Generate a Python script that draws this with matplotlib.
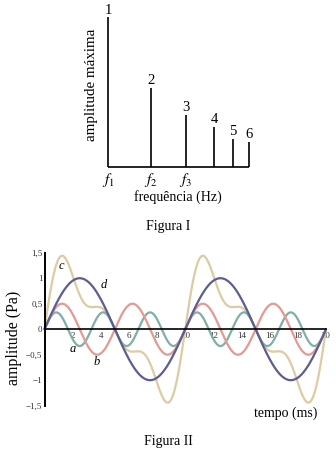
import numpy as np
import matplotlib
matplotlib.use("Agg")
import matplotlib.pyplot as plt

plt.rcParams['font.family'] = ['Liberation Serif', 'DejaVu Serif']
plt.rcParams['mathtext.fontset'] = 'stix'

# ---------- Figura I data ----------
harmonic_numbers = ['1', '2', '3', '4', '5', '6']
harmonic_freq_pos = [0, 43, 78, 106, 125, 141]          # position along frequency axis
harmonic_amplitude = [1.0, 0.53, 0.35, 0.27, 0.19, 0.17]
freq_tick_labels = ['$f_1$', '$f_2$', '$f_3$']

# ---------- Figura II data ----------
curve_names = ['d', 'b', 'a']
curve_amplitudes = [1.0, 0.5, 0.33]       # Pa
curve_periods = [10.0, 5.0, 10.0 / 3.0]   # ms
curve_colors = {'a': '#7fb0a6', 'b': '#e39a93', 'c': '#dccba3', 'd': '#5d5d92'}
time_ticks = [2, 4, 6, 8, 10, 12, 14, 16, 18, 20]
amp_ticks = [-1.5, -1, -0.5, 0, 0.5, 1, 1.5]
amp_tick_labels = ['\u22121,5', '\u22121', '\u22120,5', '0', '0,5', '1', '1,5']

W, H = 336, 457
fig = plt.figure(figsize=(W / 100, H / 100), dpi=100)
fig.patch.set_facecolor('white')


def fx(x):
    return x / W


def fy(y):
    return 1 - y / H


# ---------- Figura I ----------
ax1 = fig.add_axes([fx(108), fy(167), (249 - 108) / W, (167 - 17) / H])
ax1.set_xlim(0, 141)
ax1.set_ylim(0, 1)
ax1.axis('off')
ax1.vlines(harmonic_freq_pos, 0, harmonic_amplitude, color='black', lw=1.2,
           clip_on=False)
ax1.hlines(0, harmonic_freq_pos[0], harmonic_freq_pos[-1], color='black',
           lw=1.2, clip_on=False)
for x, h, lab in zip(harmonic_freq_pos, harmonic_amplitude, harmonic_numbers):
    ax1.annotate(lab, (x, h), xytext=(0, 2.5), textcoords='offset points',
                 ha='center', va='baseline', fontsize=10.5)
for x, lab in zip(harmonic_freq_pos[:3], freq_tick_labels):
    ax1.annotate(lab, (x, 0), xytext=(0, -3), textcoords='offset points',
                 ha='center', va='top', fontsize=11)

fig.text(fx(91), fy(85), 'amplitude máxima', rotation=90, ha='center',
         va='center', fontsize=10.8)
fig.text(fx(178), fy(197), 'frequência (Hz)', ha='center', va='center',
         fontsize=10)
fig.text(fx(168), fy(226), 'Figura I', ha='center', va='center', fontsize=10)

# ---------- Figura II ----------
ax2 = fig.add_axes([fx(44.5), fy(405.7), (326 - 44.5) / W, (405.7 - 252.7) / H])
ax2.set_xlim(0, 20)
ax2.set_ylim(-1.5, 1.5)

t = np.linspace(0, 20, 801)
components = {}
for name, A, T in zip(curve_names, curve_amplitudes, curve_periods):
    components[name] = A * np.sin(2 * np.pi * t / T)
components['c'] = components['a'] + components['b'] + components['d']

for name in ['c', 'a', 'b', 'd']:
    ax2.plot(t, components[name], color=curve_colors[name], lw=1.6,
             solid_capstyle='round', clip_on=False)

for sp in ['top', 'right']:
    ax2.spines[sp].set_visible(False)
ax2.spines['left'].set_linewidth(1.4)
ax2.spines['bottom'].set_position(('data', 0))
ax2.spines['bottom'].set_linewidth(1.2)
ax2.set_xticks(time_ticks)
ax2.set_xticklabels([str(v) for v in time_ticks])
ax2.set_yticks(amp_ticks)
ax2.set_yticklabels(amp_tick_labels)
ax2.tick_params(axis='both', length=0, labelsize=6.5, colors='#333333')
ax2.tick_params(axis='x', pad=2)
ax2.tick_params(axis='y', pad=1.5)
ax2.patch.set_alpha(0)

label_style = dict(fontsize=9, style='italic', ha='center', va='center')
ax2.text(1.2, 1.24, 'c', **label_style)
ax2.text(4.2, 0.86, 'd', **label_style)
ax2.text(2.0, -0.38, 'a', **label_style)
ax2.text(3.7, -0.65, 'b', **label_style)

fig.text(fx(14), fy(338), 'amplitude (Pa)', rotation=90, ha='center',
         va='center', fontsize=11.5)
fig.text(fx(286), fy(413), 'tempo (ms)', ha='center', va='center', fontsize=10)
fig.text(fx(168), fy(442), 'Figura II', ha='center', va='center', fontsize=10)

fig.savefig('out.png', dpi=100, facecolor='white')
